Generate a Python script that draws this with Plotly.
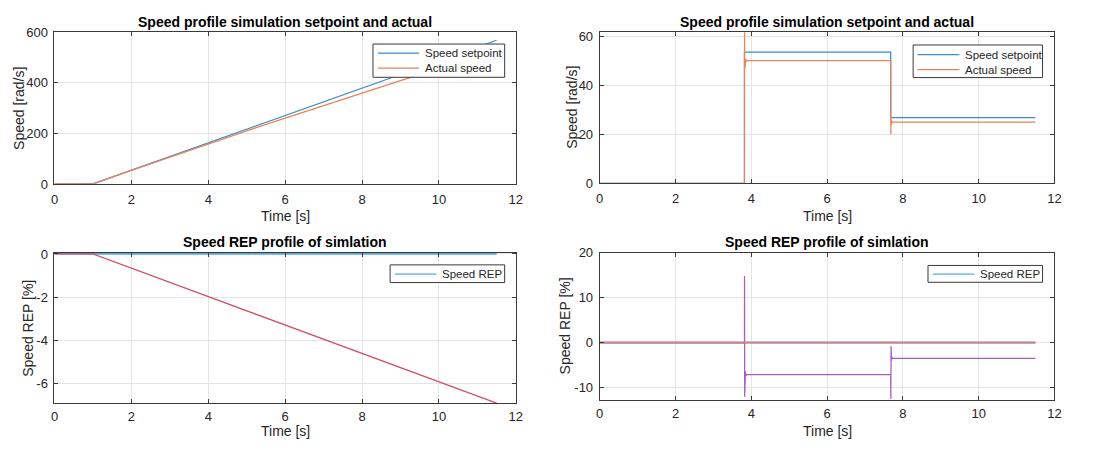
import plotly.graph_objects as go

W, H = 1103, 453

# ---- ramp test (left column) ----
ramp_t_sp = [0, 1, 11.5]
ramp_setpoint = [0, 0, 568]
ramp_t_act = [0, 1, 2, 3, 4, 5, 6, 7, 8, 9, 10, 11, 11.5]
ramp_actual = [0, 0, 53.5, 106, 158, 210, 260, 310, 359, 408, 456, 503, 528]
ramp_t_rep = [0, 11.5]
ramp_rep = [0, 0]
ramp_t_err = [0, 1, 11.5]
ramp_err = [0, 0, -6.92]

# ---- step test (right column) ----
step_t_sp = [0, 3.82, 3.82, 7.68, 7.68, 11.5]
step_setpoint = [0, 0, 53.5, 53.5, 26.8, 26.8]
step_t_act = [0, 3.82, 3.822, 3.828, 3.835, 3.842, 3.85, 3.86, 3.9,
              7.68, 7.683, 7.69, 7.70, 7.71, 7.72, 11.5]
step_actual = [0, 0, 63, 47, 51, 48, 50.8, 49.5, 50,
               50, 20, 26.8, 24, 25.4, 25, 25]
step_t_rep = [0, 11.5]
step_rep = [0, 0]
step_t_err = [0, 3.82, 3.822, 3.826, 3.832, 3.84, 3.848, 3.856, 3.87,
              7.68, 7.683, 7.69, 7.70, 7.71, 7.72, 11.5]
step_err = [0, 0, 14.8, -12.0, -5.5, -7.8, -6.4, -7.4, -7.1,
            -7.1, -12.5, -0.8, -4.0, -3.2, -3.5, -3.5]
step_t_zero = [0, 11.5]
step_zero = [0, 0]

x_ticks = [0, 2, 4, 6, 8, 10, 12]

C_BLUE = "#3A8ED0"
C_ORANGE = "#E6845A"
C_REP = "#55A8DD"
C_RED = "#CD5068"
C_PURPLE = "#A75DBA"
C_ZERO = "#D7808A"
AX = "#3A3A3A"
TXT = "#262626"
FONT = "Liberation Sans, Arial, sans-serif"


def px_x(x):
    return x / W


def px_y(y):
    return 1 - y / H


# axes boxes in pixels: (left, right, top, bottom)
boxes = {
    1: (51, 517, 26, 183),
    2: (601.7, 1061, 26, 182.5),
    3: (51, 517, 254.3, 410),
    4: (601.7, 1061, 254, 406.7),
}

fig = go.Figure()


def add(t, y, color, ax, width=1.25):
    sfx = "" if ax == 1 else str(ax)
    fig.add_trace(go.Scatter(
        x=t, y=y, mode="lines", line=dict(color=color, width=width),
        showlegend=False, xaxis="x" + sfx, yaxis="y" + sfx,
        hoverinfo="skip"))


add(ramp_t_sp, ramp_setpoint, C_BLUE, 1)
add(ramp_t_act, ramp_actual, C_ORANGE, 1)

add(step_t_sp, step_setpoint, C_BLUE, 2)
add(step_t_act, step_actual, C_ORANGE, 2)

add(ramp_t_rep, ramp_rep, C_REP, 3, width=1.8)
add(ramp_t_err, ramp_err, C_RED, 3)

add(step_t_rep, step_rep, C_REP, 4, width=1.8)
add(step_t_err, step_err, C_PURPLE, 4)
add(step_t_zero, step_zero, C_ZERO, 4, width=2)

yranges = {1: [0, 600], 2: [0, 61.6], 3: [-6.93, 0.05], 4: [-12.8, 20]}
ytickvals = {1: [0, 200, 400, 600], 2: [0, 20, 40, 60],
             3: [-6, -4, -2, 0], 4: [-10, 0, 10, 20]}

layout = dict(
    width=W, height=H, margin=dict(l=0, r=0, t=0, b=0),
    paper_bgcolor="white", plot_bgcolor="white",
    font=dict(family=FONT, color=TXT, size=13),
    showlegend=False,
)

for i, (l, r, t, b) in boxes.items():
    sfx = "" if i == 1 else str(i)
    common = dict(showline=True, mirror="ticks", linecolor=AX, linewidth=1,
                  ticks="inside", ticklen=4, tickcolor=AX, tickwidth=1,
                  showgrid=True, gridcolor="#E4E4E4", gridwidth=1,
                  zeroline=False, tickfont=dict(size=13, color=TXT))
    layout["xaxis" + sfx] = dict(
        domain=[px_x(l), px_x(r)], range=[0, 12], tickvals=x_ticks,
        ticktext=["%g" % v for v in x_ticks],
        anchor="y" + sfx, ticklabelstandoff=3 if i <= 2 else 1, **common)
    layout["yaxis" + sfx] = dict(
        domain=[px_y(b), px_y(t)], range=yranges[i], tickvals=ytickvals[i],
        ticktext=["%g" % v for v in ytickvals[i]],
        anchor="x" + sfx, ticklabelstandoff=3, **common)

fig.update_layout(**layout)

# legends: box (left, right, top, bottom), entries (label, color, y), sample x0, x1
legends = [
    ((372.7, 505.7, 38.3, 72.7), [("Speed setpoint", C_BLUE, 47.7),
                                   ("Actual speed", C_ORANGE, 63.3)], 377.7, 419.3),
    ((918.3, 1049, 39.3, 73), [("Speed setpoint", C_BLUE, 49.3),
                                ("Actual speed", C_ORANGE, 64.7)], 922.7, 965),
    ((390, 505.7, 266.7, 285), [("Speed REP", C_REP, 276.2)], 395, 436.7),
    ((933.3, 1049, 267.3, 284.7), [("Speed REP", C_REP, 276.2)], 938.3, 980),
]
shapes = []
for (l, r, t, b), entries, s0, s1 in legends:
    shapes.append(dict(type="rect", xref="paper", yref="paper",
                       x0=px_x(l), x1=px_x(r), y0=px_y(b), y1=px_y(t),
                       line=dict(color=AX, width=1), fillcolor="white",
                       layer="above"))
    for label, color, y in entries:
        shapes.append(dict(type="line", xref="paper", yref="paper",
                           x0=px_x(s0), x1=px_x(s1), y0=px_y(y), y1=px_y(y),
                           line=dict(color=color, width=1.3), layer="above"))
        fig.add_annotation(text=label, x=px_x(s1 + 3.5), y=px_y(y),
                           xref="paper", yref="paper", showarrow=False,
                           font=dict(size=11.5, color=TXT),
                           xanchor="left", yanchor="middle")
fig.update_layout(shapes=shapes)

titles = [
    ("Speed profile simulation setpoint and actual", 284, 15.7),
    ("Speed profile simulation setpoint and actual", 831.3, 15.7),
    ("Speed REP profile of simlation", 284, 243.3),
    ("Speed REP profile of simlation", 831.3, 243.3),
]
for text, x, y in titles:
    fig.add_annotation(text="<b>%s</b>" % text, x=px_x(x), y=px_y(y),
                       xref="paper", yref="paper", showarrow=False,
                       font=dict(size=14, color="black"),
                       xanchor="center", yanchor="middle")

xlabels = [(284, 216.5), (831.3, 216.5), (284, 439), (831.3, 439)]
for x, y in xlabels:
    fig.add_annotation(text="Time [s]", x=px_x(x), y=px_y(y),
                       xref="paper", yref="paper", showarrow=False,
                       font=dict(size=14, color=TXT),
                       xanchor="center", yanchor="middle")

ylabels = [("Speed [rad/s]", 15, 104.5), ("Speed [rad/s]", 573, 104),
           ("Speed REP [%]", 24, 332), ("Speed REP [%]", 567, 330)]
for text, x, y in ylabels:
    fig.add_annotation(text=text, x=px_x(x), y=px_y(y), textangle=-90,
                       xref="paper", yref="paper", showarrow=False,
                       font=dict(size=14, color=TXT),
                       xanchor="center", yanchor="middle")

fig.write_html("out.html")
